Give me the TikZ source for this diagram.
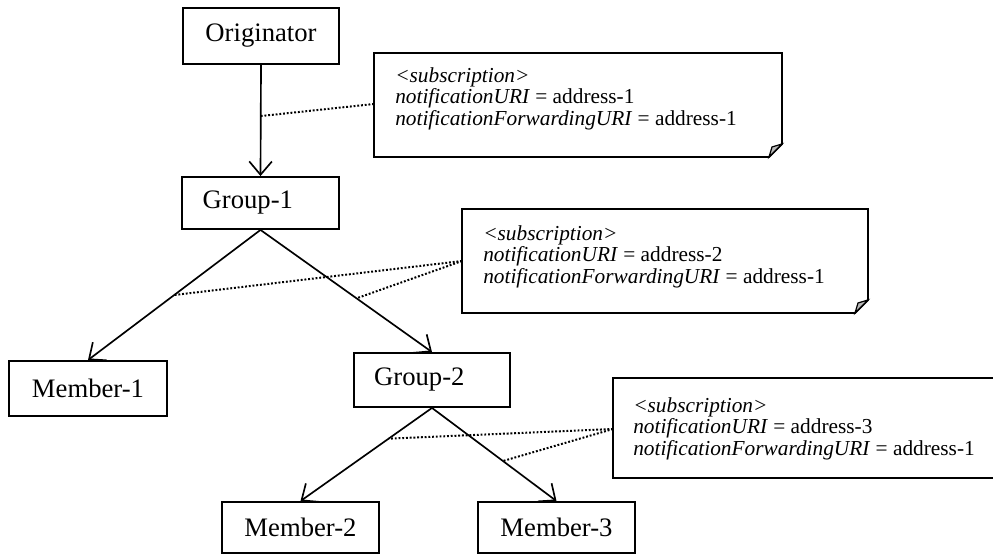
\documentclass[tikz,border=0pt]{standalone}
\usepackage{fontspec}
\setmainfont{Liberation Serif}
\usetikzlibrary{arrows.meta}
\begin{document}
\begin{tikzpicture}[x=0.75pt,y=-0.75pt,
 box/.style={draw,line width=1.4pt,inner sep=0pt,font=\fontsize{20}{24}\selectfont},
 conn/.style={line width=1.25pt,-{Straight Barb[length=10pt,width=17pt,line width=1.25pt]}},
 dots/.style={line width=1.5pt,dash pattern=on 1.4pt off 1.4pt},
 notebox/.style={line width=1.4pt,fill=white},
 foldfill/.style={fill=gray!55,draw,line width=0.9pt},
 notetext/.style={align=left,inner sep=0pt,font=\fontsize{16}{16.2}\selectfont}]
\useasboundingbox (0,0) rectangle (993,555);
\begin{scope}
\clip (0,0) rectangle (993,555);
% boxes
\node[box,minimum width=117pt,minimum height=42pt] (orig) at (261,36) {Originator};
\node[box,minimum width=117.75pt,minimum height=39pt] (g1) at (260.5,203) {Group-1\hspace*{19pt}};
\node[box,minimum width=118.5pt,minimum height=41.25pt] (m1) at (88,388.5) {Member-1};
\node[box,minimum width=117pt,minimum height=40.5pt] (g2) at (432,380) {Group-2\hspace*{19pt}};
\node[box,minimum width=117.75pt,minimum height=38.25pt] (m2) at (300.5,527.5) {Member-2};
\node[box,minimum width=117.75pt,minimum height=38.25pt] (m3) at (556.5,527.5) {Member-3};
% connectors
\draw[conn] (orig.south) -- (g1.north);
\draw[conn] (g1.south) -- (m1.north);
\draw[conn] (g1.south) -- (g2.north);
\draw[conn] (g2.south) -- (m2.north);
\draw[conn] (g2.south) -- (m3.north);
% points on connectors
\path (orig.south) -- (g1.north) coordinate[pos=0.46] (p1);
\path (g1.south) -- (m1.north) coordinate[pos=0.5] (p2a);
\path (g1.south) -- (g2.north) coordinate[pos=0.56] (p2b);
\path (g2.south) -- (m2.north) coordinate[pos=0.33] (p3a);
\path (g2.south) -- (m3.north) coordinate[pos=0.57] (p3b);
% notes
\draw[notebox] (374,53) -- (782,53) -- (782,144) -- (769,157) -- (374,157) -- cycle;
\draw[foldfill] (769,157) -- (782,144) -- (772,147) -- cycle;
\draw[notebox] (462,209) -- (868,209) -- (868,300) -- (855,313) -- (462,313) -- cycle;
\draw[foldfill] (855,313) -- (868,300) -- (858,303) -- cycle;
\draw[notebox] (613,378) -- (1019,378) -- (1019,465) -- (1006,478) -- (613,478) -- cycle;
\draw[foldfill] (1006,478) -- (1019,465) -- (1009,468) -- cycle;
\coordinate (n1) at (374,104);
\coordinate (n2) at (462,261);
\coordinate (n3) at (613,429);
\node[notetext,anchor=west] (t1) at (395,98.5) {\textit{<subscription>}\\ \textit{notificationURI} = address-1\\ \textit{notificationForwardingURI} = address-1};
\node[notetext,anchor=west] (t2) at (483,256.5) {\textit{<subscription>}\\ \textit{notificationURI} = address-2\\ \textit{notificationForwardingURI} = address-1};
\node[notetext,anchor=west] (t3) at (633,428.5) {\textit{<subscription>}\\ \textit{notificationURI} = address-3\\ \textit{notificationForwardingURI} = address-1};
% dotted links
\draw[dots] (n1) -- (p1);
\draw[dots] (n2) -- (p2a);
\draw[dots] (n2) -- (p2b);
\draw[dots] (n3) -- (p3a);
\draw[dots] (n3) -- (p3b);
\end{scope}
\end{tikzpicture}
\end{document}
